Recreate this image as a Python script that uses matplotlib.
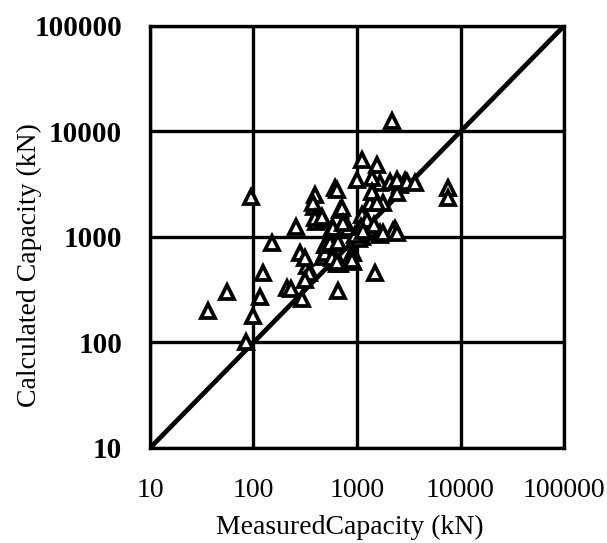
import matplotlib
matplotlib.use('Agg')
import matplotlib.pyplot as plt

plt.rcParams['font.family'] = ['Liberation Serif', 'DejaVu Serif']

measured = [
    95, 36, 55, 100, 85, 116, 123, 150, 210, 230,
    257, 293, 282, 330, 345, 313, 380, 400, 610, 690,
    470, 570, 515, 470, 650, 640, 2200, 1670, 1340, 1780,
    1670, 2340, 2250, 1340, 1500, 490, 690, 915, 570, 7600,
    7600, 2900, 2600, 2450,
    1117, 1561, 1000, 1396, 2085, 2437, 3044, 3633, 641, 393,
    376, 716, 1396, 1117, 1561, 393, 459, 586, 819, 1668,
    2437, 491, 548, 655, 573, 895, 915, 315, 1117, 1396,
    733, 1050, 1200, 1300, 1000, 950, 1250, 1100, 1450, 1150,
    1780, 895, 640,
]
calculated = [
    2400, 200, 300, 180, 100, 270, 455, 870, 330, 320,
    1240, 260, 710, 525, 455, 390, 1920, 1400, 2880, 1800,
    1450, 1215, 835, 650, 310, 560, 12500, 3250, 2100, 2100,
    1100, 1200, 1150, 1240, 460, 705, 560, 705, 880, 2900,
    2350, 3400, 3100, 2620,
    5370, 4810, 3466, 3620, 3318, 3466, 3318, 3250, 2790, 2500,
    2100, 1880, 2670, 1620, 2100, 1515, 1550, 1217, 1217, 1044,
    1090, 840, 878, 898, 632, 705, 580, 632, 1000, 1115,
    1357, 950, 1300, 1200, 1100, 1050, 1450, 1250, 1300, 1150,
    1090, 605, 580,
]
line_ends = [10, 100000]
ticks = [10, 100, 1000, 10000, 100000]
tick_labels = ['10', '100', '1000', '10000', '100000']

fig = plt.figure(figsize=(6.07, 5.43), dpi=100)
ax = fig.add_axes([0.2471, 0.1750, 0.6821, 0.7772])

ax.set_xscale('log')
ax.set_yscale('log')
ax.set_xlim(10, 100000)
ax.set_ylim(10, 100000)

# 1:1 line
ax.plot(line_ends, line_ends, color='black', linewidth=3.4, zorder=2)

ax.plot(measured, calculated, linestyle='none', marker='^', markersize=9.5,
        markerfacecolor='white', markeredgecolor='black', markeredgewidth=2.7,
        zorder=3)

ax.grid(True, which='major', color='black', linewidth=2.4, zorder=1)
ax.set_axisbelow(True)
for s in ax.spines.values():
    s.set_linewidth(2.4)

ax.set_xticks(ticks)
ax.set_xticklabels(tick_labels, fontsize=20)
ax.set_yticks(ticks)
ax.set_yticklabels(tick_labels, fontsize=21, fontweight='bold')
ax.minorticks_off()
ax.tick_params(axis='x', length=0, pad=21.5)
ax.tick_params(axis='y', length=0, pad=20)

ax.set_xlabel('MeasuredCapacity (kN)', fontsize=20)
ax.set_ylabel('Calculated Capacity (kN)', fontsize=20)
ax.xaxis.set_label_coords(0.483, -0.158)
ax.yaxis.set_label_coords(-0.262, 0.434)

fig.savefig('out.png', dpi=100)
